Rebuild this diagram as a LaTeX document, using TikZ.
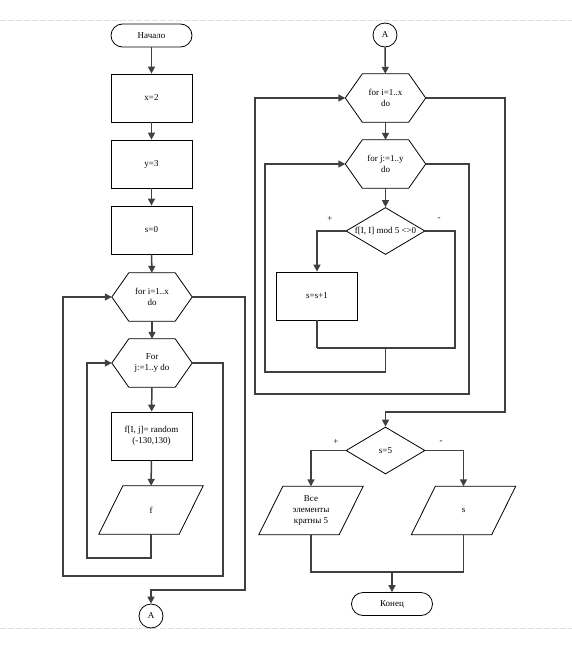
\documentclass[tikz,border=0pt]{standalone}
\usepackage{fontspec}
\setmainfont{Liberation Serif}
\usetikzlibrary{arrows.meta,shapes.geometric,calc}
\tikzset{
  txt/.style={font=\fontsize{9}{11}\selectfont, align=center},
  shp/.style={draw=black, line width=0.8pt},
  box/.style={shp, txt, rectangle, minimum width=81pt, minimum height=48pt, inner sep=1pt},
  term/.style={box, rounded corners=11.5pt, minimum height=23pt},
  hexbox/.style={txt, rectangle, minimum width=80pt, minimum height=48pt, inner sep=0pt},
  parabox/.style={txt, rectangle, minimum width=104pt, minimum height=48pt, inner sep=0pt},
  dia/.style={shp, txt, diamond, minimum width=79pt, minimum height=47pt, inner sep=0pt},
  conn/.style={shp, txt, circle, minimum size=24pt, inner sep=0pt},
  line/.style={line width=1.5pt, draw=black!75},
  arr/.style={line, -{Triangle[length=7pt,width=7pt]}},
  lbl/.style={font=\fontsize{9}{11}\selectfont, inner sep=0pt},
  pageline/.style={draw=black!12, line width=0.6pt, dash pattern=on 6pt off 2pt}
}
\newcommand\hexout[1]{\draw[shp] (#1.west) -- ([xshift=17pt]#1.north west) -- ([xshift=-17pt]#1.north east) -- (#1.east) -- ([xshift=-17pt]#1.south east) -- ([xshift=17pt]#1.south west) -- cycle;}
\newcommand\paraout[1]{\draw[shp] ([xshift=24pt]#1.north west) -- (#1.north east) -- ([xshift=-24pt]#1.south east) -- (#1.south west) -- cycle;}
\begin{document}
\begin{tikzpicture}[x=1pt, y=-1pt]
\useasboundingbox (0,0) rectangle (572,648);
\fill[white] (0,0) rectangle (572,648);
\draw[pageline] (0,20) -- (572,20);
\draw[pageline] (0,628) -- (572,628);

% left column
\node[term] (start) at (151.5,35.5) {Начало};
\node[box] (x2) at (151.5,98) {x=2};
\node[box] (y3) at (151.5,164) {y=3};
\node[box] (s0) at (151.5,230) {s=0};
\node[hexbox] (fi1) at (152,297) {for i=1..x\\do};
\hexout{fi1}
\node[hexbox] (fj1) at (152,363) {For\\j:=1..y do};
\hexout{fj1}
\node[box] (rnd) at (151.5,436) {f[I, j]= random\\(-130,130)};
\node[parabox] (fout) at (151,510) {f};
\paraout{fout}
\node[conn] (A1) at (151,616) {A};

\coordinate (c1) at (87,558);
\coordinate (c2) at (223,576);
\coordinate (c3) at (63,297);
\coordinate (c4) at (245,590);

\draw[arr] (start) -- (x2);
\draw[arr] (x2) -- (y3);
\draw[arr] (y3) -- (s0);
\draw[arr] (s0) -- (fi1);
\draw[arr] (fi1) -- (fj1);
\draw[arr] (fj1) -- (rnd);
\draw[arr] (rnd) -- (fout);
\draw[arr] (fout.south) |- (c1) |- (fj1.west);
\draw[arr] (fj1.east) -| (c2) -| (c3) -- (fi1.west);
\draw[arr] (fi1.east) -| (c4) -| (A1.north);

% right column
\node[conn] (A2) at (385,35) {A};
\node[hexbox] (fi2) at (385.5,98) {for i=1..x\\do};
\hexout{fi2}
\node[hexbox] (fj2) at (385.5,164) {for j:=1..y\\do};
\hexout{fj2}
\node[dia] (cond) at (385.5,231) {\makebox[0pt]{f[I, I] mod 5 <>0}};
\node[box] (inc) at (317,296) {s=s+1};
\node[dia] (s5) at (385.5,450.5) {s=5};
\node[parabox] (yes) at (311,510.5) {Все\\элементы\\кратны 5};
\paraout{yes}
\node[parabox] (no) at (463.5,510.5) {s};
\paraout{no}
\node[term] (end) at (392,604) {Конец};

\coordinate (c5) at (455,348);
\coordinate (c6) at (317,348);
\coordinate (j1) at (385.5,348);
\coordinate (c7) at (265,372);
\coordinate (c8) at (469,394);
\coordinate (c9) at (255,98);
\coordinate (c10) at (505,412);
\coordinate (c11) at (392,572);

\draw[arr] (A2) -- (fi2);
\draw[arr] (fi2) -- (fj2);
\draw[arr] (fj2) -- (cond);
\draw[arr] (cond.west) -| (inc.north);
\draw[line] (cond.east) -| (c5) -- (c6);
\draw[line] (inc.south) -- (c6);
\draw[arr] (j1) |- (c7) |- (fj2.west);
\draw[arr] (fj2.east) -| (c8) -| (c9) -- (fi2.west);
\draw[arr] (fi2.east) -| (c10) -| (s5.north);
\draw[arr] (s5.west) -| (yes.north);
\draw[arr] (s5.east) -| (no.north);
\draw[line] (yes.south) |- (c11);
\draw[line] (no.south) |- (c11);
\draw[arr] (c11) -- (end.north);

\node[lbl] (p1) at (330,219) {+};
\node[lbl] (m1) at (439,219) {-};
\node[lbl] (p2) at (336,442) {+};
\node[lbl] (m2) at (441,442) {-};
\end{tikzpicture}
\end{document}
